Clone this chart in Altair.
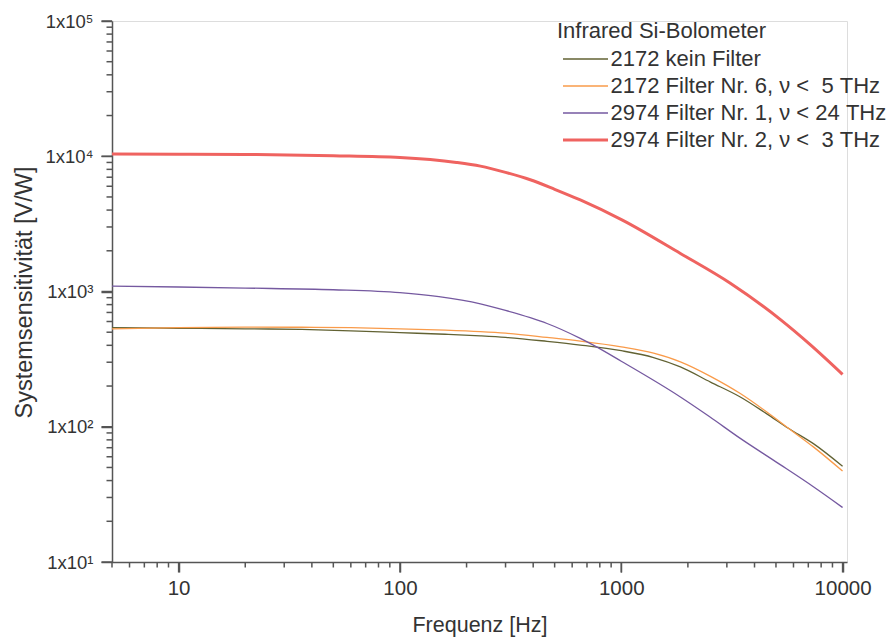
import altair as alt
import pandas as pd

# Series labels (legend order)
series_names = [
    "2172 kein Filter",
    "2172 Filter Nr. 6, \u03bd < \u00a05 THz",
    "2974 Filter Nr. 1, \u03bd < 24 THz",
    "2974 Filter Nr. 2, \u03bd < \u00a03 THz",
]
series_colors = ["#626233", "#f99b4a", "#7559a0", "#ef6360"]
series_widths = [1.3, 1.3, 1.3, 3.0]

# Frequency [Hz] and system sensitivity [V/W] per detector/filter
f_kein = [5, 10, 20, 36, 60, 100, 160, 231, 300, 462, 653, 1000, 1400, 1850, 2530, 3450, 4530, 5715, 7380, 10000]
v_kein = [540, 535, 530, 524, 512, 496, 483, 470, 458, 428, 402, 365, 325, 277, 214, 166, 125, 97, 75, 51]

f_nr6 = [5, 10, 20, 36, 60, 100, 160, 231, 300, 462, 653, 1000, 1400, 1850, 2530, 3450, 4530, 5715, 7380, 10000]
v_nr6 = [530, 540, 545, 544, 540, 530, 518, 505, 492, 458, 430, 390, 350, 302, 236, 176, 129, 97, 71, 47]

f_nr1 = [5, 10, 20, 50, 100, 150, 231, 300, 388, 462, 653, 748, 1000, 1850, 2500, 3450, 5000, 7380, 10000]
v_nr1 = [1095, 1080, 1060, 1030, 980, 915, 810, 725, 640, 580, 450, 401, 305, 166, 119, 82, 55, 36, 25.3]

f_nr2 = [5, 10, 20, 50, 100, 137, 180, 231, 300, 388, 500, 653, 1012, 1850, 3110, 5240, 7140, 10000]
v_nr2 = [10370, 10350, 10300, 10100, 9800, 9450, 9000, 8450, 7600, 6700, 5700, 4750, 3370, 1910, 1150, 620, 405, 244]

# Axis tick positions: decades carry labels, the rest are minor ticks
x_major = [10, 100, 1000, 10000]
x_minor = [5, 6, 7, 8, 9] + [m * 10 ** e for e in (1, 2, 3) for m in range(2, 10)]
y_major = [10, 100, 1000, 10000, 100000]
y_minor = [m * 10 ** e for e in (1, 2, 3, 4) for m in range(2, 10)]
y_exponents = ["\u2070", "\u00b9", "\u00b2", "\u00b3", "\u2074", "\u2075"]

frames = []
for name, fs, vs in zip(series_names, [f_kein, f_nr6, f_nr1, f_nr2], [v_kein, v_nr6, v_nr1, v_nr2]):
    frames.append(pd.DataFrame({"Frequenz": fs, "Sens": vs, "series": name}))
df = pd.concat(frames, ignore_index=True)

font = "Liberation Sans"
text_color = "#333333"
axis_color = "#555555"
tick_color = "#555555"
exp_list = "[" + ",".join(f"'{e}'" for e in y_exponents) + "]"

PLOT_W, PLOT_H = 735, 541
MAJOR_LEN, MINOR_LEN = 10.5, 5.5

x_scale = alt.Scale(type="log", domain=[5, 10470], nice=False)
y_scale = alt.Scale(type="log", domain=[10, 100000], nice=False)

x_axis = alt.Axis(
    title="Frequenz [Hz]",
    values=x_major,
    labelExpr="toString(datum.value)",
    grid=False,
    ticks=True,
    labelOverlap=False,
    labelFlush=False,
    tickSize=10,
    tickColor=tick_color,
    tickWidth=1.5,
    domainColor=axis_color,
    domainWidth=1.5,
    labelFont=font,
    labelFontSize=20.5,
    labelColor=text_color,
    labelPadding=6,
    titleFont=font,
    titleFontSize=21.5,
    titleFontWeight="normal",
    titleColor=text_color,
    titleY=63,
    titleBaseline="middle",
)

y_axis = alt.Axis(
    title="Systemsensitivit\u00e4t [V/W]",
    values=y_major,
    labelExpr=f"'1x10' + {exp_list}[round(log(datum.value)/LN10)]",
    grid=False,
    ticks=True,
    labelOverlap=False,
    labelFlush=False,
    tickSize=11,
    tickColor=tick_color,
    tickWidth=1.5,
    domainColor=axis_color,
    domainWidth=1.5,
    labelFont=font,
    labelFontSize=18.5,
    labelColor=text_color,
    labelPadding=8,
    titleFont=font,
    titleFontSize=23.5,
    titleFontWeight="normal",
    titleColor=text_color,
    titleX=-88,
    titleY=271,
    titleBaseline="middle",
)

legend = alt.Legend(
    title="Infrared Si-Bolometer",
    orient="none",
    legendX=445,
    legendY=0,
    padding=0,
    symbolType="M-5,0H5",
    symbolSize=81,
    symbolOffset=17.5,
    labelOffset=14,
    rowPadding=5,
    titlePadding=5,
    labelFont=font,
    labelFontSize=22,
    labelColor=text_color,
    labelLimit=400,
    titleFont=font,
    titleFontSize=22,
    titleFontWeight="normal",
    titleColor=text_color,
    titleLimit=400,
)

curves = alt.Chart(df).mark_line(interpolate="monotone", clip=True).encode(
    x=alt.X("Frequenz:Q", scale=x_scale, axis=x_axis),
    y=alt.Y("Sens:Q", scale=y_scale, axis=y_axis),
    color=alt.Color("series:N", scale=alt.Scale(domain=series_names, range=series_colors), legend=legend),
    strokeWidth=alt.StrokeWidth(
        "series:N",
        scale=alt.Scale(type="ordinal", domain=series_names, range=series_widths),
        legend=legend,
    ),
    order=alt.Order("Frequenz:Q"),
)


def x_tick_rules(values, length):
    """Short rules hanging below the frequency axis at the given values."""
    return alt.Chart(pd.DataFrame({"Frequenz": values})).mark_rule(
        color=tick_color, strokeWidth=1.5
    ).encode(
        x=alt.X("Frequenz:Q", scale=x_scale, axis=None),
        y=alt.value(PLOT_H),
        y2=alt.value(PLOT_H + length),
    )


def y_tick_rules(values, length):
    """Short rules left of the sensitivity axis at the given values."""
    return alt.Chart(pd.DataFrame({"Sens": values})).mark_rule(
        color=tick_color, strokeWidth=1.5
    ).encode(
        y=alt.Y("Sens:Q", scale=y_scale, axis=None),
        x=alt.value(0),
        x2=alt.value(-length),
    )


chart = (
    alt.layer(
        curves,
        x_tick_rules(x_major, MAJOR_LEN),
        x_tick_rules(x_minor, MINOR_LEN),
        y_tick_rules(y_major, MAJOR_LEN),
        y_tick_rules(y_minor, MINOR_LEN),
    )
    .resolve_axis(x="independent", y="independent")
    .properties(
        width=PLOT_W,
        height=PLOT_H,
        autosize=alt.AutoSizeParams(type="none"),
        padding={"left": 112, "top": 21, "right": 39, "bottom": 78},
    )
    .configure_view(stroke=None, strokeWidth=0)
    .configure(background="white")
)

chart.save("out.html", embed_options={"renderer": "svg", "actions": False})
